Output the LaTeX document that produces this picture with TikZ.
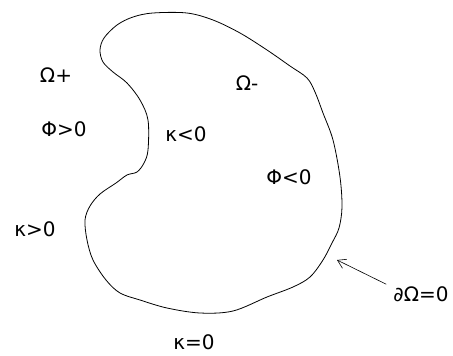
\documentclass[tikz,border=0pt]{standalone}
\usepackage{fontspec}
\setmainfont{DejaVu Sans}
\usetikzlibrary{arrows.meta}
\begin{document}
\begin{tikzpicture}[x=1pt,y=-1pt,
  lbl/.style={inner sep=0pt,font=\fontsize{20}{24}\selectfont},
  bound/.style={line width=0.8pt,black}]
\useasboundingbox (0,0) rectangle (453,356);
\draw[bound] plot[smooth cycle,tension=0.55] coordinates {
 (100,50) (104,38) (117,25) (133,17) (153,13) (187,13) (213,20) (240,33)
 (267,50) (290,66) (307,78) (315,92) (323,113) (333,140) (340,177) (342,207)
 (339,228) (332,243) (323,260) (310,277) (293,287) (267,297) (233,311)
 (200,313) (167,308) (140,300) (120,293) (106,280) (93,260) (87,240) (85,220)
 (90,206) (100,194) (116,183) (127,175) (137,172) (144,163) (148,150)
 (148,120) (140,100) (127,83) (113,72) (103,62)};
\node[lbl] (op) at (56,75) {Ω+};
\node[lbl] (pp) at (64,129) {Φ>0};
\node[lbl] (kn) at (186,134) {κ<0};
\node[lbl] (om) at (247,83) {Ω-};
\node[lbl] (pm) at (289,177) {Φ<0};
\node[lbl] (kp) at (35,229) {κ>0};
\node[lbl] (kz) at (194,342) {κ=0};
\node[lbl] (db) at (421,294) {∂Ω=0};
\coordinate (tip) at (337,260);
\coordinate (tail) at ([xshift=-7pt,yshift=2pt]db.north west);
\draw[line width=0.6pt,-{Straight Barb[length=8pt,width=10pt]}] (tail) -- (tip);
\end{tikzpicture}
\end{document}
